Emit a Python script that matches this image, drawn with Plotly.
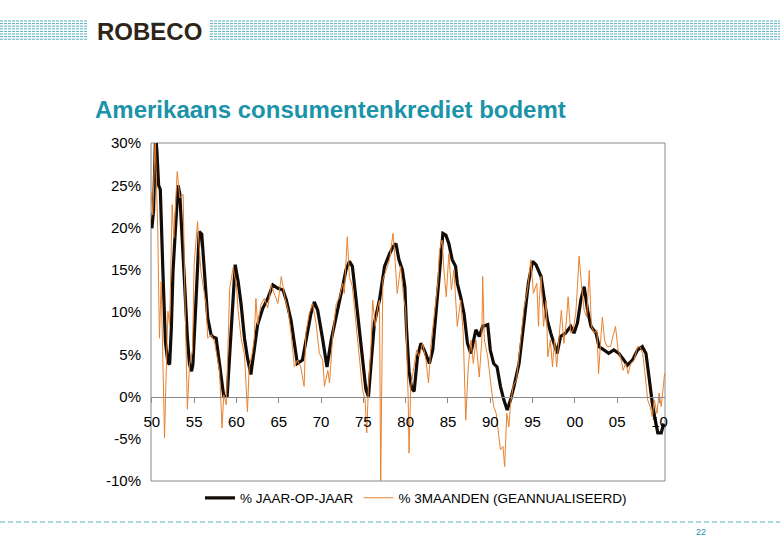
import plotly.graph_objects as go

# ---------------- data ----------------
yoy_dates = [1950.0, 1950.2, 1950.45, 1950.6, 1950.8, 1951.0, 1951.3, 1951.6, 1951.9, 1952.1,
             1952.3, 1952.5, 1952.8, 1953.1, 1953.3, 1953.5, 1953.9, 1954.2, 1954.45, 1954.7,
             1954.85, 1955.2, 1955.6, 1955.9, 1956.2, 1956.6, 1957.0, 1957.3, 1957.6, 1958.0,
             1958.5, 1958.9, 1959.2, 1959.6, 1959.85, 1960.2, 1960.55, 1960.95, 1961.3, 1961.7,
             1962.1, 1962.5, 1963.1, 1963.7, 1964.3, 1964.9, 1965.5, 1965.9, 1966.45, 1967.0,
             1967.2, 1967.8, 1968.2, 1968.8, 1969.2, 1969.6, 1970.2, 1970.7, 1971.2, 1971.8,
             1972.2, 1972.55, 1972.95, 1973.35, 1973.7, 1974.1, 1974.5, 1974.9, 1975.3, 1975.6,
             1975.9, 1976.3, 1976.9, 1977.5, 1978.1, 1978.5, 1978.85, 1979.2, 1979.6, 1979.9,
             1980.1, 1980.4, 1980.7, 1981.0, 1981.4, 1981.8, 1982.2, 1982.8, 1983.2, 1983.6,
             1984.0, 1984.4, 1984.75, 1985.1, 1985.5, 1985.9, 1986.1, 1986.5, 1986.9, 1987.3,
             1987.7, 1988.1, 1988.3, 1988.7, 1989.1, 1989.7, 1990.0, 1990.4, 1990.8, 1991.2,
             1991.6, 1992.0, 1992.4, 1992.8, 1993.4, 1994.0, 1994.5, 1995.0, 1995.4, 1996.0,
             1996.4, 1996.75, 1997.15, 1997.5, 1997.9, 1998.3, 1998.9, 1999.5, 1999.9, 2000.3,
             2000.7, 2001.1, 2001.5, 2001.9, 2002.5, 2002.85, 2003.45, 2004.0, 2004.6, 2005.2,
             2005.8, 2006.2, 2006.8, 2007.4, 2007.97, 2008.4, 2008.8, 2009.15, 2009.5, 2009.8,
             2010.2, 2010.5]
yoy_values = [19.9, 22.0, 31.0, 29.0, 25.0, 24.5, 15.0, 6.5, 4.0, 3.8,
              8.0, 14.8, 20.0, 25.0, 24.0, 20.7, 12.8, 7.0, 3.8, 3.0,
              3.8, 10.9, 19.5, 19.2, 14.8, 9.3, 7.3, 7.0, 6.9, 3.8,
              0.0, 0.0, 5.3, 12.0, 15.6, 13.6, 10.9, 6.9, 4.6, 2.6,
              5.3, 8.5, 10.4, 11.6, 13.2, 12.8, 12.6, 11.4, 9.0, 5.1,
              3.9, 4.3, 6.7, 9.8, 11.2, 10.2, 6.7, 3.5, 6.7, 9.8,
              11.4, 13.0, 15.0, 16.0, 15.4, 11.8, 8.3, 5.1, 0.8, 0.0,
              3.5, 8.7, 11.4, 15.4, 16.9, 17.7, 18.1, 16.2, 15.0, 13.0,
              8.0, 3.0, 1.0, 0.6, 4.7, 6.3, 5.5, 3.9, 5.5, 10.2,
              15.4, 19.3, 19.1, 18.1, 16.2, 15.4, 13.4, 11.8, 9.8, 6.3,
              5.1, 7.1, 7.9, 7.1, 8.3, 8.5, 5.5, 3.9, 3.5, 1.2,
              -0.4, -1.6, -0.4, 1.2, 3.9, 9.0, 13.4, 16.0, 15.6, 14.2,
              11.4, 9.0, 7.5, 6.3, 5.1, 7.1, 7.5, 8.3, 7.5, 8.7,
              11.4, 13.0, 10.2, 8.3, 7.5, 5.9, 5.5, 5.1, 5.5, 5.1,
              4.3, 3.7, 4.3, 5.5, 5.9, 5.1, 2.0, -0.8, -2.8, -4.3,
              -4.3, -3.2]

m3_dates = [1949.9, 1950.1, 1950.4, 1950.7, 1950.9, 1951.1, 1951.4, 1951.5, 1951.7, 1951.9,
            1952.1, 1952.4, 1952.6, 1953.0, 1953.3, 1953.7, 1953.9, 1954.2, 1954.45, 1954.8,
            1955.0, 1955.4, 1955.8, 1956.4, 1956.6, 1957.0, 1957.4, 1958.0, 1958.3, 1958.5,
            1958.8, 1959.2, 1959.6, 1960.0, 1960.2, 1960.55, 1960.95, 1961.3, 1961.5, 1961.9,
            1962.1, 1962.3, 1962.5, 1962.9, 1963.3, 1963.7, 1964.1, 1964.5, 1964.9, 1965.3,
            1965.7, 1966.1, 1966.45, 1966.85, 1967.2, 1967.6, 1968.0, 1968.2, 1968.6, 1969.0,
            1969.4, 1969.8, 1970.2, 1970.4, 1970.8, 1971.0, 1971.4, 1971.8, 1972.2, 1972.55,
            1972.75, 1973.1, 1973.35, 1973.7, 1974.1, 1974.5, 1974.9, 1975.2, 1975.4, 1975.6,
            1975.9, 1976.1, 1976.4, 1976.7, 1976.9, 1977.05, 1977.3, 1977.7, 1978.1, 1978.5,
            1978.7, 1979.0, 1979.4, 1979.75, 1980.0, 1980.3, 1980.4, 1980.6, 1981.0, 1981.3,
            1981.6, 1982.0, 1982.4, 1982.7, 1983.0, 1983.4, 1983.8, 1984.0, 1984.3, 1984.55,
            1984.8, 1985.1, 1985.4, 1985.7, 1986.1, 1986.5, 1986.8, 1987.1, 1987.4, 1987.7,
            1988.0, 1988.3, 1988.7, 1989.0, 1989.1, 1989.3, 1989.7, 1990.1, 1990.4, 1990.7,
            1990.9, 1991.2, 1991.5, 1991.7, 1991.95, 1992.2, 1992.4, 1992.7, 1993.1, 1993.6,
            1994.0, 1994.4, 1994.8, 1995.1, 1995.5, 1995.7, 1995.8, 1996.0, 1996.3, 1996.6,
            1996.8, 1997.1, 1997.35, 1997.6, 1997.85, 1998.1, 1998.4, 1998.7, 1999.0, 1999.2,
            1999.5, 1999.8, 2000.1, 2000.3, 2000.5, 2000.8, 2001.1, 2001.4, 2001.7, 2001.95,
            2002.3, 2002.6, 2002.8, 2003.05, 2003.25, 2003.5, 2003.8, 2004.2, 2004.8, 2005.1,
            2005.4, 2005.7, 2006.0, 2006.3, 2006.6, 2007.0, 2007.4, 2007.7, 2008.0, 2008.25,
            2008.6, 2008.9, 2009.15, 2009.4, 2009.7, 2009.95, 2010.2, 2010.45, 2010.6]
m3_values = [24.3, 21.5, 30.5, 19.5, 6.9, 13.6, -0.2, -4.9, 3.0, 10.1,
             8.5, 22.7, 18.8, 26.6, 23.5, 23.9, 12.4, -1.5, 3.8, 5.3,
             15.6, 20.7, 14.8, 10.9, 6.9, 7.3, 6.5, 3.0, -3.7, 0.2,
             -1.0, 12.8, 15.2, 13.2, 10.1, 6.9, 4.9, -1.8, 3.4, 5.3,
             6.9, 11.6, 8.5, 10.9, 11.6, 10.5, 13.2, 12.0, 11.0, 14.2,
             11.8, 10.2, 7.5, 3.5, 4.3, 3.5, 1.2, 7.5, 9.8, 11.0,
             8.7, 5.1, 4.3, 1.2, 3.1, 1.6, 7.5, 11.0, 11.8, 13.4,
             12.2, 18.9, 14.2, 13.0, 9.0, 5.5, 0.8, -0.4, -4.3, 1.2,
             5.9, 11.4, 8.3, 10.6, 11.4, -10.5, 13.8, 15.0, 16.2, 19.3,
             16.9, 12.2, 15.4, 11.8, 10.2, -0.4, -6.7, 1.2, 3.5, 5.5,
             4.7, 6.3, 4.3, 1.6, 6.3, 9.8, 13.4, 17.3, 18.5, 14.6,
             11.8, 16.9, 12.6, 15.0, 8.3, 11.4, 7.5, -2.8, 3.5, 6.7,
             3.9, 6.7, 2.3, 6.7, 14.2, 6.7, 4.7, 1.2, -1.2, -2.0,
             -3.6, -6.3, -5.9, -8.3, -2.0, -3.6, -0.8, 1.2, 2.0, 7.1,
             10.6, 12.6, 16.2, 12.2, 13.4, 8.3, 11.4, 14.2, 8.3, 11.4,
             4.7, 6.7, 3.5, 6.7, 3.5, 6.7, 10.2, 6.3, 9.0, 11.8,
             7.5, 7.9, 9.8, 13.0, 16.6, 13.0, 10.2, 9.4, 14.9, 8.3,
             7.5, 7.9, 2.7, 6.7, 9.4, 6.7, 5.9, 5.9, 8.3, 5.5,
             4.7, 3.1, 3.9, 2.7, 3.9, 4.3, 5.9, 5.9, 5.1, 3.1,
             -0.4, -1.2, -2.4, -0.4, -2.0, 0.4, -1.2, 1.2, 2.7]

x_tick_years = [1950, 1955, 1960, 1965, 1970, 1975, 1980, 1985, 1990, 1995, 2000, 2005, 2010]
x_tick_labels = ["50", "55", "60", "65", "70", "75", "80", "85", "90", "95", "00", "05", "10"]
y_tick_values = [-10, -5, 0, 5, 10, 15, 20, 25, 30]
y_tick_labels = ["-10%", "-5%", "0%", "5%", "10%", "15%", "20%", "25%", "30%"]

series_names = ["% JAAR-OP-JAAR", "% 3MAANDEN (GEANNUALISEERD)"]
title_text = "Amerikaans consumentenkrediet bodemt"
page_number = "22"

# ---------------- layout geometry ----------------
W, H = 780, 540
PL, PR, PT, PB = 151, 665, 143, 481
PW, PH = PR - PL, PB - PT
Y_MIN, Y_MAX = -10, 30
TEAL = "#1b93a8"
STRIPE = "#55b0bf"
FONT = "Arial, Liberation Sans, sans-serif"


def px(xp):
    return (xp - PL) / PW


def py(yp):
    return (PB - yp) / PH


fig = go.Figure()
fig.add_trace(go.Scatter(x=yoy_dates, y=yoy_values, mode="lines", name=series_names[0],
                         line=dict(color="#140c06", width=3.2)))
fig.add_trace(go.Scatter(x=m3_dates, y=m3_values, mode="lines", name=series_names[1],
                         line=dict(color="#e8822f", width=1)))

shapes = []
# plot border
shapes.append(dict(type="rect", xref="paper", yref="paper", x0=0, x1=1, y0=0, y1=1,
                   line=dict(color="#8a8a8a", width=1), layer="below"))
# header stripes
for i in range(8):
    yy = 21 + i * 2.6
    for (a, b) in [(0, 88), (210, 780)]:
        shapes.append(dict(type="line", xref="paper", yref="paper",
                           x0=px(a), x1=px(b), y0=py(yy), y1=py(yy),
                           line=dict(color=STRIPE, width=1, dash="3px,1px")))
# footer dashed line
shapes.append(dict(type="line", xref="paper", yref="paper", x0=px(0), x1=px(780),
                   y0=py(522), y1=py(522), line=dict(color=STRIPE, width=1, dash="5px,3px")))
# teal bar on the logo "E"
shapes.append(dict(type="rect", xref="paper", yref="paper", x0=px(151), x1=px(164),
                   y0=py(25.5), y1=py(22.5), line=dict(width=0), fillcolor="#4fb8cc"))

annotations = [
    dict(text="<b>ROBECO</b>", xref="paper", yref="paper", x=px(95), y=py(31),
         xanchor="left", yanchor="middle", showarrow=False,
         font=dict(family=FONT, size=24, color="#2e2519")),
    dict(text=page_number, xref="paper", yref="paper", x=px(701), y=py(532),
         xanchor="center", yanchor="middle", showarrow=False,
         font=dict(family=FONT, size=9, color=TEAL)),
]

fig.update_layout(
    width=W, height=H, autosize=False,
    margin=dict(l=PL, r=W - PR, t=PT, b=H - PB, pad=0),
    paper_bgcolor="white", plot_bgcolor="white",
    title=dict(text="<b>" + title_text + "</b>", xref="container", yref="container",
               x=95 / W, y=1 - 110 / H, xanchor="left", yanchor="middle",
               font=dict(family=FONT, size=24, color=TEAL)),
    xaxis=dict(range=[1949.9, 2010.65], anchor="free",
               position=(0 - Y_MIN) / (Y_MAX - Y_MIN),
               tickvals=x_tick_years, ticktext=x_tick_labels,
               showline=True, linecolor="#8a8a8a", linewidth=1,
               ticks="outside", ticklen=5, tickcolor="#8a8a8a",
               ticklabelstandoff=6,
               showgrid=False, zeroline=False,
               tickfont=dict(family=FONT, size=15, color="black")),
    yaxis=dict(range=[Y_MIN, Y_MAX], tickvals=y_tick_values, ticktext=y_tick_labels,
               showline=False, showgrid=False, zeroline=False, ticks="",
               ticklabelstandoff=9,
               tickfont=dict(family=FONT, size=15, color="black")),
    legend=dict(orientation="h", x=px(200), y=py(498), xanchor="left", yanchor="middle",
                bgcolor="rgba(0,0,0,0)", itemwidth=30,
                font=dict(family=FONT, size=13.5, color="black")),
    shapes=shapes,
    annotations=annotations,
)

fig.write_html("out.html")
